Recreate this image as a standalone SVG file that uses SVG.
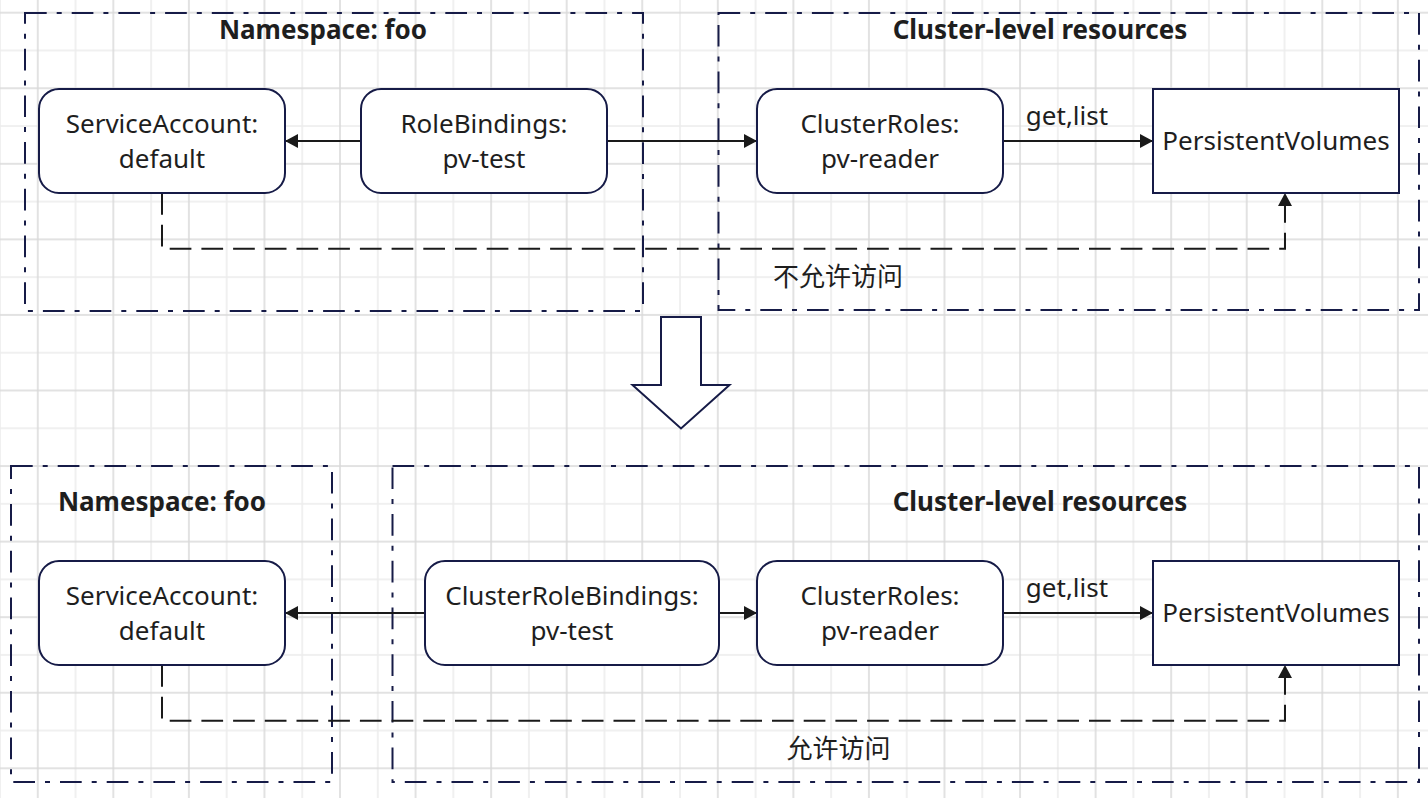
<svg xmlns="http://www.w3.org/2000/svg" width="1428" height="798" viewBox="0 0 1428 798">
<style>
.t{font-family:"Noto Sans","Noto Sans CJK SC",sans-serif;font-size:26px;fill:#1e1e1e;text-anchor:middle}
.b{font-weight:bold}
.zone{fill:none;stroke:#161b47;stroke-width:2;stroke-dasharray:21.7 10 5 10}
.node{fill:#fff;stroke:#161b47;stroke-width:2}
.edge{fill:none;stroke:#1a1a1a;stroke-width:2}
.dash{stroke-dasharray:21.7 10}
</style>
<defs>
<pattern id="grid" patternUnits="userSpaceOnUse" x="36.78" y="11.7" width="75.56" height="75.56">
<rect x="38.03" y="0" width="1.5" height="75.56" fill="#ececec"/>
<rect x="0" y="38.03" width="75.56" height="1.5" fill="#ececec"/>
<rect x="0.25" y="0" width="1.5" height="75.56" fill="#d9d9d9"/>
<rect x="0" y="0.25" width="75.56" height="1.5" fill="#d9d9d9"/>
</pattern>
<marker id="arr" markerUnits="userSpaceOnUse" markerWidth="14" markerHeight="14" refX="13" refY="7" orient="auto">
<path d="M0,0 L13,7 L0,14 z" fill="#1a1a1a"/>
</marker>
</defs>
<rect width="1428" height="798" fill="#fff"/>
<rect width="1428" height="798" fill="url(#grid)"/>

<g id="zone-top-ns">
<rect class="zone" x="25" y="13" width="618" height="298"/>
<text class="t b" x="323" y="39">Namespace: foo</text>
</g>
<g id="zone-top-cluster">
<rect class="zone" x="718.5" y="13" width="700.5" height="297"/>
<text class="t b" x="1040" y="39">Cluster-level resources</text>
</g>
<g id="zone-bottom-ns">
<rect class="zone" x="11" y="466" width="321" height="316"/>
<text class="t b" x="162" y="511">Namespace: foo</text>
</g>
<g id="zone-bottom-cluster">
<rect class="zone" x="392.5" y="466" width="1026.5" height="316"/>
<text class="t b" x="1040" y="511">Cluster-level resources</text>
</g>

<g id="connectors">
<path class="edge" d="M361,141 H285" marker-end="url(#arr)"/>
<path class="edge" d="M607,141 H757" marker-end="url(#arr)"/>
<path class="edge" d="M1003,141 H1153" marker-end="url(#arr)"/>
<path class="edge dash" d="M162,193 V248.7 H1285 V193" marker-end="url(#arr)"/>
<text class="t" x="1067" y="125">get,list</text>
<text class="t" x="838" y="286">不允许访问</text>
<path class="edge" d="M425,613 H285" marker-end="url(#arr)"/>
<path class="edge" d="M719,613 H757" marker-end="url(#arr)"/>
<path class="edge" d="M1003,613 H1153" marker-end="url(#arr)"/>
<path class="edge dash" d="M162,665 V720.7 H1285 V665" marker-end="url(#arr)"/>
<text class="t" x="1067" y="597">get,list</text>
<text class="t" x="838.5" y="758">允许访问</text>
</g>

<g id="sa-top">
<rect class="node" x="39" y="89" width="246" height="104" rx="20"/>
<text class="t" x="162" y="132.7">ServiceAccount:</text>
<text class="t" x="162" y="168.3">default</text>
</g>
<g id="rb-top">
<rect class="node" x="361" y="89" width="246" height="104" rx="20"/>
<text class="t" x="484" y="132.7">RoleBindings:</text>
<text class="t" x="484" y="168.3">pv-test</text>
</g>
<g id="cr-top">
<rect class="node" x="757" y="89" width="246" height="104" rx="20"/>
<text class="t" x="880" y="132.7">ClusterRoles:</text>
<text class="t" x="880" y="168.3">pv-reader</text>
</g>
<g id="pv-top">
<rect class="node" x="1153" y="89" width="246" height="104"/>
<text class="t" x="1276" y="150">PersistentVolumes</text>
</g>

<g id="down-arrow">
<path class="node" d="M661,317 H701 V385 H729.5 L681,428.5 L632.5,385 H661 Z"/>
</g>

<g id="sa-bottom">
<rect class="node" x="39" y="561" width="246" height="104" rx="20"/>
<text class="t" x="162" y="604.7">ServiceAccount:</text>
<text class="t" x="162" y="640.3">default</text>
</g>
<g id="crb-bottom">
<rect class="node" x="425" y="561" width="294" height="104" rx="20"/>
<text class="t" x="572" y="604.7">ClusterRoleBindings:</text>
<text class="t" x="572" y="640.3">pv-test</text>
</g>
<g id="cr-bottom">
<rect class="node" x="757" y="561" width="246" height="104" rx="20"/>
<text class="t" x="880" y="604.7">ClusterRoles:</text>
<text class="t" x="880" y="640.3">pv-reader</text>
</g>
<g id="pv-bottom">
<rect class="node" x="1153" y="561" width="246" height="104"/>
<text class="t" x="1276" y="622">PersistentVolumes</text>
</g>
</svg>
